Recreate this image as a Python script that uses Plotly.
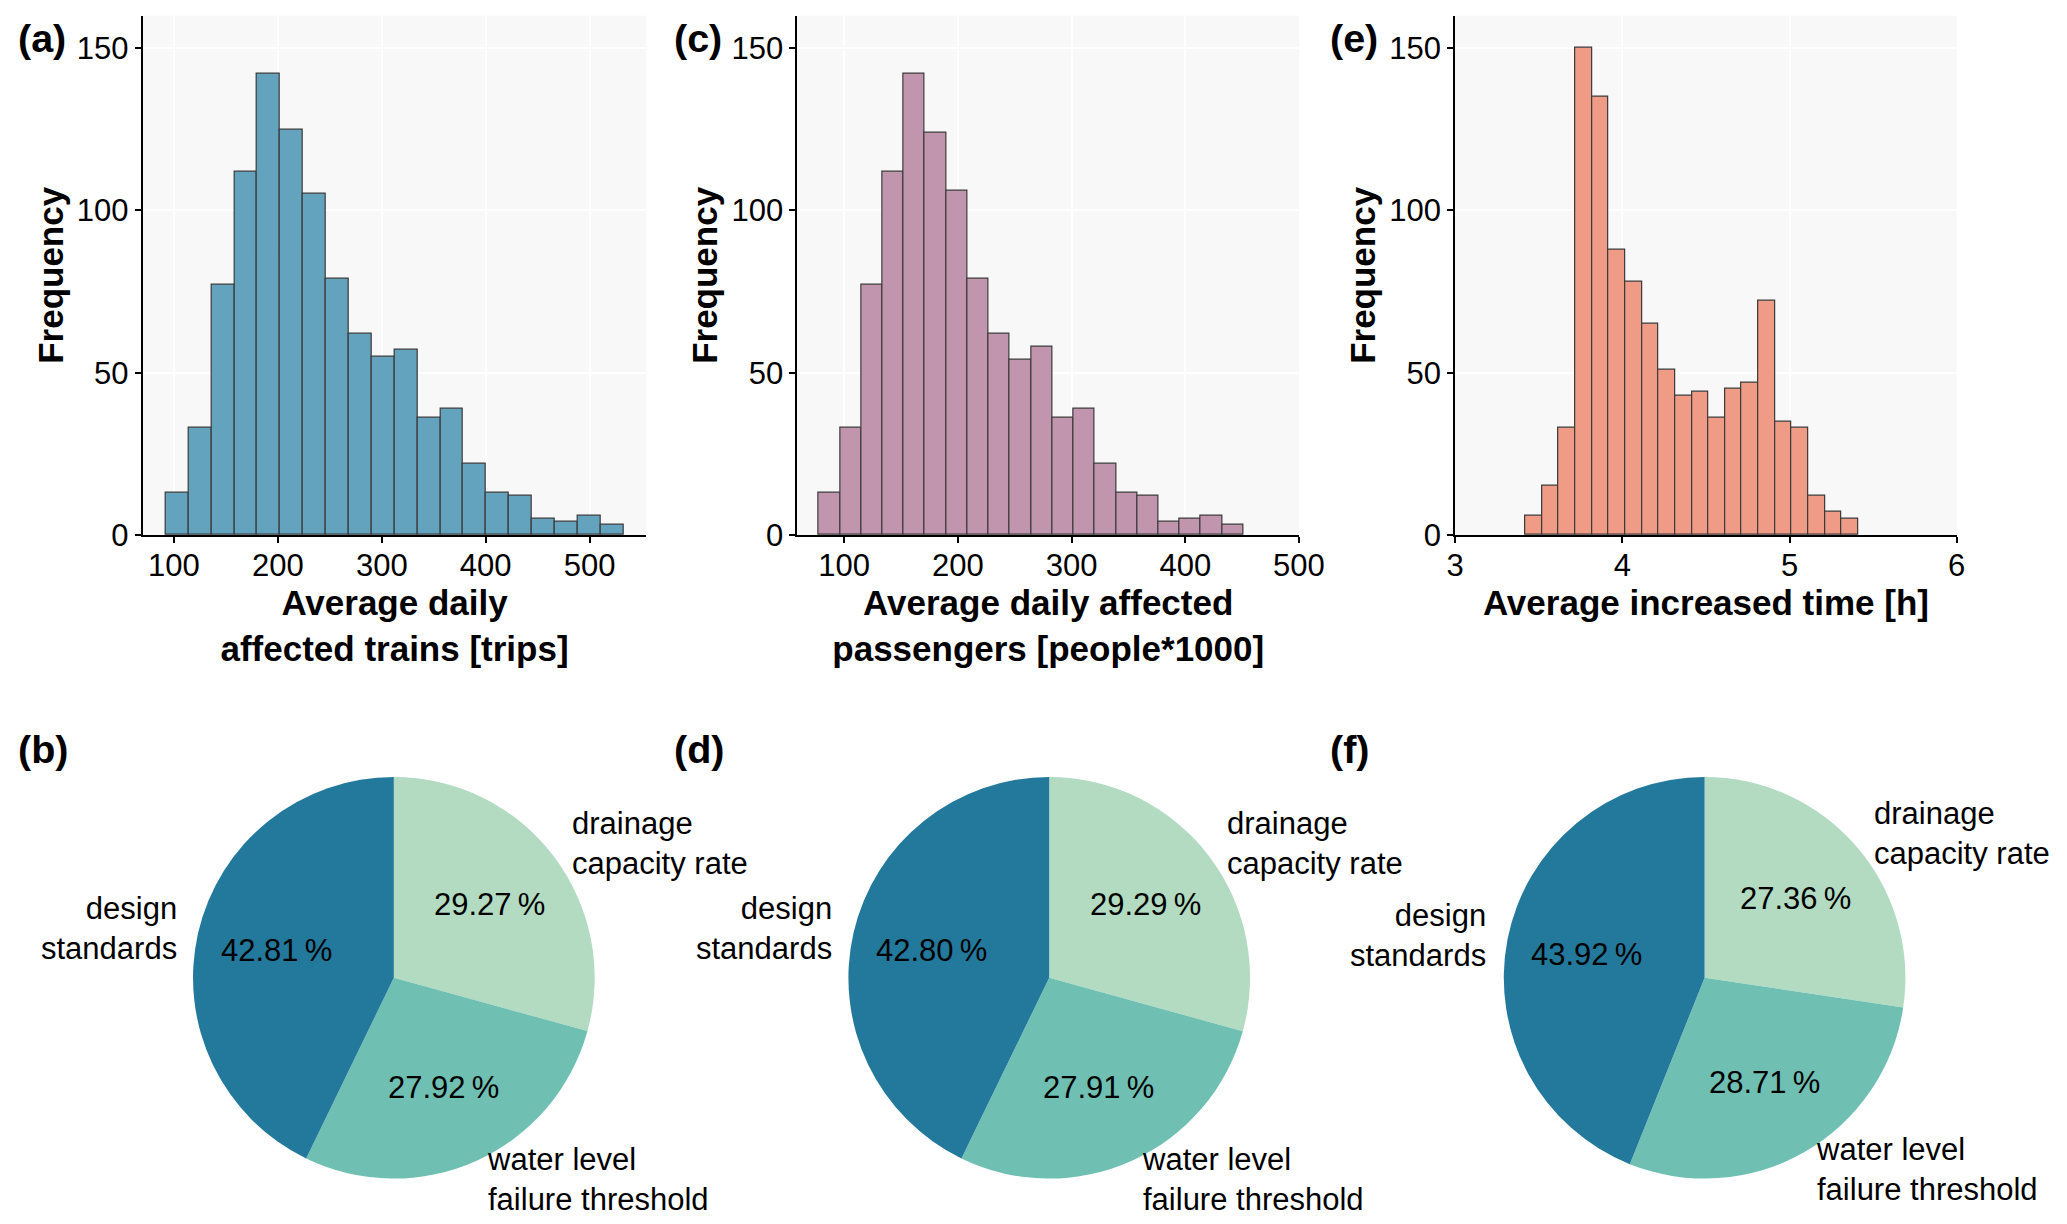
import numpy as np
import plotly.graph_objects as go

# --- data ---------------------------------------------------------------
# (a) average daily affected trains, 20 bins
trains_counts = [13, 33, 77, 112, 142, 125, 105, 79, 62, 55, 57, 36, 39, 22, 13, 12, 5, 4, 6, 3]
trains_bin_start = 92.0
trains_bin_width = 22.03

# (c) average daily affected passengers (x1000), 20 bins
passengers_counts = [13, 33, 77, 112, 142, 124, 106, 79, 62, 54, 58, 36, 39, 22, 13, 12, 4, 5, 6, 3]
passengers_bin_start = 77.7
passengers_bin_width = 18.67

# (e) average increased time [h], 20 bins
time_counts = [6, 15, 33, 150, 135, 88, 78, 65, 51, 43, 44, 36, 45, 47, 72, 35, 33, 12, 7, 5]
time_bin_start = 3.42
time_bin_width = 0.0995

# (b), (d), (f) shares of the three factors [%]
factors = ["design<br>standards", "water level<br>failure threshold", "drainage<br>capacity rate"]
share_trains = [42.81, 27.92, 29.27]
share_passengers = [42.80, 27.91, 29.29]
share_time = [43.92, 28.71, 27.36]

# --- styling ---------------------------------------------------------------
W, H = 2067, 1224
FONT = "Liberation Sans, Arial, sans-serif"
hist_colors = ["#64a3bd", "#c295ae", "#ef9b86"]
pie_colors = ["#23799c", "#6fc0b3", "#b2dbc1"]

# the page shows the paper slightly shrunk and centred; positions below are
# given in screen pixels and mapped back onto the paper
S, OX, OY = 0.984, 15.8, 10.5
TICK_SIZE = 31
TITLE_SIZE = 35
PIE_SIZE = 31
LETTER_SIZE = 39.5


def px(x):
    return (x - OX) / S / W


def py(y):
    return 1 - (y - OY) / S / H


fig = go.Figure()

# histogram panels: (x extent on screen, x range, ticks, title)
hists = [
    (trains_counts, trains_bin_start, trains_bin_width, (141.7, 645.7), [70.0, 554.6],
     [100, 200, 300, 400, 500], "<b>Average daily<br>affected trains [trips]</b>"),
    (passengers_counts, passengers_bin_start, passengers_bin_width, (797.0, 1299.0), [59.0, 500],
     [100, 200, 300, 400, 500], "<b>Average daily affected<br>passengers [people*1000]</b>"),
    (time_counts, time_bin_start, time_bin_width, (1455.4, 1957.3), [3, 6],
     [3, 4, 5, 6], "<b>Average increased time [h]</b>"),
]

for i, (counts, start, width, dom, xr, ticks, title) in enumerate(hists):
    s = "" if i == 0 else str(i + 1)
    edges = start + width * np.arange(len(counts))
    fig.add_trace(go.Bar(
        x=edges, y=counts, width=width, offset=0,
        marker=dict(color=hist_colors[i], line=dict(color="#3a3a3a", width=1.2)),
        xaxis="x" + s, yaxis="y" + s, showlegend=False,
    ))
    ax = dict(
        domain=[px(dom[0]), px(dom[1])], range=xr, tickvals=ticks,
        showline=True, linecolor="black", linewidth=2,
        ticks="outside", ticklen=6, tickwidth=1.8, tickcolor="black", ticklabelstandoff=-4,
        showgrid=True, gridcolor="white", gridwidth=1.5, zeroline=False,
        tickfont=dict(size=TICK_SIZE, color="black", family=FONT),
        title=dict(text=title, font=dict(size=TITLE_SIZE, color="black", family=FONT), standoff=0),
        anchor="y" + s,
    )
    ay = dict(
        domain=[py(536.7), py(18.3)], range=[0, 160], tickvals=[0, 50, 100, 150],
        showline=True, linecolor="black", linewidth=2,
        ticks="outside", ticklen=6, tickwidth=1.8, tickcolor="black",
        showgrid=True, gridcolor="white", gridwidth=1.5, zeroline=False,
        tickfont=dict(size=TICK_SIZE, color="black", family=FONT),
        title=dict(text="<b>Frequency</b>", font=dict(size=TITLE_SIZE, color="black", family=FONT), standoff=3),
        anchor="x" + s,
    )
    fig.update_layout({"xaxis" + s: ax, "yaxis" + s: ay})
    fig.add_shape(type="rect", xref="x" + s + " domain", yref="y" + s + " domain",
                  x0=0, x1=1, y0=0, y1=1, fillcolor="#f8f8f8", line_width=0, layer="below")

# pie panels: design standards starts at 12 o'clock and runs counterclockwise
pie_centers = [393, 1049, 1705]
pie_cy = 979
pie_r = 201
for share, cx in zip([share_trains, share_passengers, share_time], pie_centers):
    fig.add_trace(go.Pie(
        labels=factors[::-1], values=share[::-1], sort=False, direction="clockwise", rotation=0,
        marker=dict(colors=pie_colors[::-1], line=dict(width=0)),
        textinfo="none",
        domain=dict(x=[px(cx - pie_r), px(cx + pie_r)], y=[py(pie_cy + pie_r), py(pie_cy - pie_r)]),
        showlegend=False, hoverinfo="label+value",
    ))
    # labels outside (distance 1.1 r) and percentages inside (0.6 r), matplotlib style
    cum = 0.0
    total = sum(share)
    for lab, v in zip(factors, share):
        mid = np.deg2rad(90 + 360 * (cum + v / 2) / total)
        cum += v
        c, sn = np.cos(mid), np.sin(mid)
        side = "right" if c < 0 else "left"
        fig.add_annotation(x=px(cx + 1.1 * pie_r * c), y=py(pie_cy - 1.1 * pie_r * sn),
                           xref="paper", yref="paper", text=lab,
                           showarrow=False, xanchor=side, yanchor="middle", align=side,
                           font=dict(size=PIE_SIZE, color="black", family=FONT))
        fig.add_annotation(x=px(cx + 0.6 * pie_r * c), y=py(pie_cy - 0.6 * pie_r * sn),
                           xref="paper", yref="paper", text=f"{v:.2f}\u2009%",
                           showarrow=False, xanchor="center", yanchor="middle",
                           font=dict(size=PIE_SIZE, color="black", family=FONT))

# panel letters
for letter, x, y in [("(a)", 15, 40), ("(c)", 671, 40), ("(e)", 1328, 40),
                     ("(b)", 15, 751), ("(d)", 671, 751), ("(f)", 1328, 751)]:
    fig.add_annotation(x=px(x), y=py(y), xref="paper", yref="paper", text=f"<b>{letter}</b>",
                       showarrow=False, xanchor="left", yanchor="middle",
                       font=dict(size=LETTER_SIZE, color="black", family=FONT))

fig.update_layout(
    width=W, height=H, margin=dict(l=0, r=0, t=0, b=0),
    paper_bgcolor="white", plot_bgcolor="white", bargap=0,
    font=dict(family=FONT, color="black"),
)

fig.write_html("out.html")
